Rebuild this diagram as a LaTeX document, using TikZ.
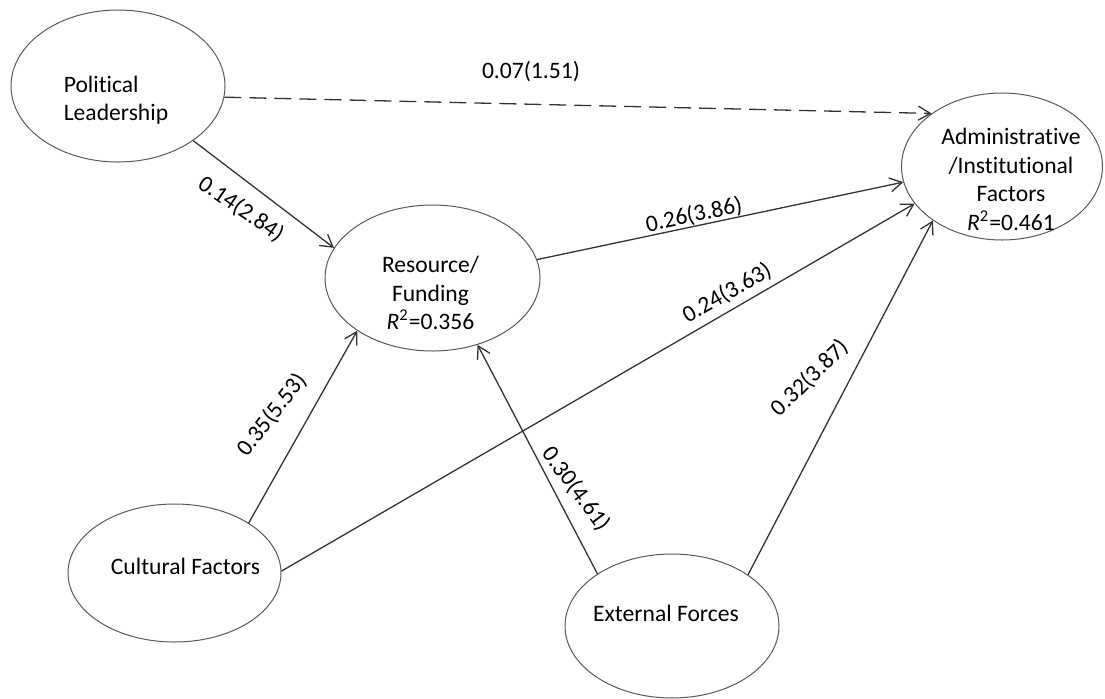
\documentclass[tikz,border=0pt]{standalone}
\usepackage{fontspec}
\setmainfont{Carlito}[Ligatures={NoCommon,NoContextual}]
\usetikzlibrary{shapes.geometric,arrows.meta}

\begin{document}
\begin{tikzpicture}[
  x=0.5pt, y=-0.5pt,
  latent/.style={draw=black!65, line width=0.5pt, ellipse, inner sep=0pt},
  construct/.style={font=\fontsize{11.8}{14.25}\selectfont, inner sep=0pt, align=center},
  coef/.style={font=\fontsize{11.8}{14}\selectfont, inner sep=0pt},
  effect/.style={draw=black!80, line width=0.65pt, -{Straight Barb[length=6pt,width=7pt]}},
  weak/.style={dash pattern=on 8.5pt off 4pt}
]
\fill[white] (0,0) rectangle (1105,698);
\useasboundingbox (0,0) rectangle (1105,698);

% constructs
\node[latent, minimum width=107pt, minimum height=76pt] (pl) at (118,86) {};
\node[latent, minimum width=107.5pt, minimum height=73pt] (res) at (432.5,278) {};
\node[latent, minimum width=100.5pt, minimum height=73.5pt] (adm) at (1002,166.5) {};
\node[latent, minimum width=106.5pt, minimum height=69pt] (cul) at (174.5,573) {};
\node[latent, minimum width=107pt, minimum height=72pt] (ext) at (672,626) {};

\node[construct, align=left] (pl-txt) at ([shift={(-2,14)}]pl.center) {Political\\Leadership};
\node[construct] (res-txt) at ([shift={(-2,15)}]res.center) {Resource/\\Funding\\\textit{R}\textsuperscript{2}=0.356};
\node[construct] (adm-txt) at ([shift={(9,13)}]adm.center) {Administrative\\/Institutional\\Factors\\\textit{R}\textsuperscript{2}=0.461};
\node[construct] (cul-txt) at ([shift={(11,-7)}]cul.center) {Cultural Factors};
\node[construct] (ext-txt) at ([shift={(-6,-13)}]ext.center) {External Forces};

% paths
\draw[effect, weak] (pl.-6) -- (adm.143);
\draw[effect] (pl.-36) -- (res.163);
\draw[effect] (res.10) -- (adm.189);
\draw[effect] (cul.1) -- (adm.203);
\draw[effect] (cul.34) -- (res.215);
\draw[effect] (ext.145) -- (res.-56);
\draw[effect] (ext.34) -- (adm.218);

% coefficients (t-values)
\node[coef] (c-pl-adm) at (531,71) {0.07(1.51)};
\node[coef, rotate=-34.5] (c-pl-res) at (241,209) {0.14(2.84)};
\node[coef, rotate=12] (c-res-adm) at (694,215) {0.26(3.86)};
\node[coef, rotate=29.5] (c-cul-adm) at (727,293) {0.24(3.63)};
\node[coef, rotate=52] (c-cul-res) at (272,415) {0.35(5.53)};
\node[coef, rotate=-53.5] (c-ext-res) at (576,489) {0.30(4.61)};
\node[coef, rotate=44] (c-ext-adm) at (810,378) {0.32(3.87)};
\end{tikzpicture}
\end{document}
